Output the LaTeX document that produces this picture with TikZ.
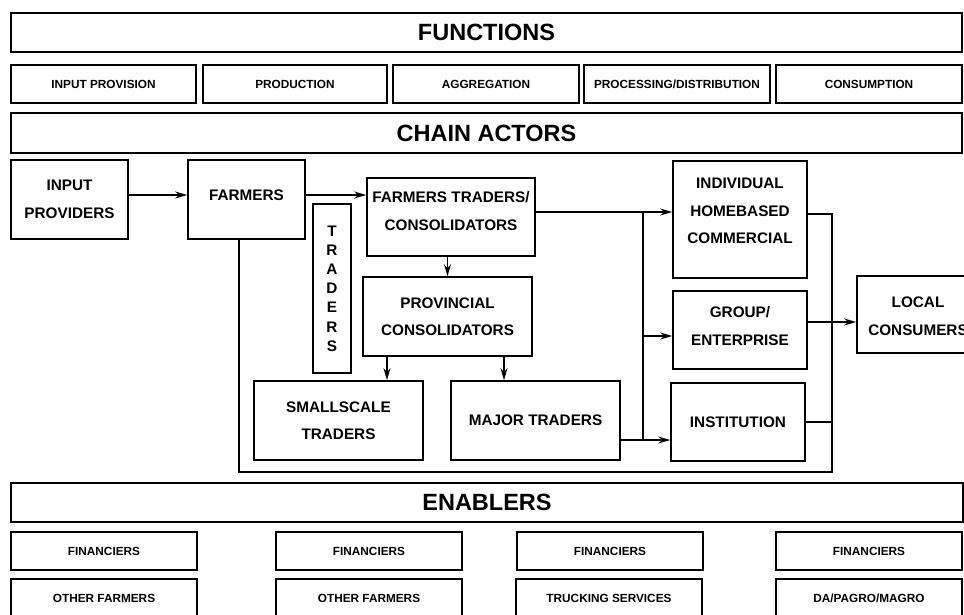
\documentclass[tikz,border=0pt]{standalone}
\usepackage{fontspec}
\setmainfont{Liberation Sans}
\usetikzlibrary{arrows.meta,positioning,calc}

\begin{document}
\begin{tikzpicture}[x=1pt, y=-1pt,
    box/.style={draw, line width=1.6pt, inner sep=0pt, align=center,
        font=\bfseries\fontsize{15.3}{27.5}\selectfont},
    band/.style={box, minimum width=951pt, minimum height=39pt,
        font=\bfseries\fontsize{23.5}{28}\selectfont},
    tag/.style={box, minimum width=186pt, minimum height=38pt,
        font=\bfseries\fontsize{11.8}{14}\selectfont},
    arr/.style={line width=1.3pt, -{Stealth[length=12pt, width=7pt, inset=4pt]}},
    link/.style={line width=1.3pt}]

    \useasboundingbox (0,0) rectangle (964,615);

    % functions
    \node[band] (functions) at (486.5,32.5) {FUNCTIONS};
    \node[tag, minimum width=185pt] (fInput) at (103.5,84) {INPUT PROVISION};
    \node[tag, minimum width=184pt] (fProd) at (295,84) {PRODUCTION};
    \node[tag] (fAggr) at (486,84) {AGGREGATION};
    \node[tag] (fProc) at (677,84) {PROCESSING/DISTRIBUTION};
    \node[tag] (fCons) at (869,84) {CONSUMPTION};

    % chain actors
    \node[band, minimum height=40pt] (actors) at (486.5,133) {CHAIN ACTORS};
    \node[box, minimum width=117pt, minimum height=79pt] (inputProv) at (69.5,199.5) {INPUT\\PROVIDERS};
    \node[box, minimum width=117pt, minimum height=79pt, text height=14pt, text depth=12pt] (farmers) at (246.5,199.5) {FARMERS};
    \node[box, minimum width=38pt, minimum height=169pt, font=\bfseries\fontsize{15.3}{19.2}\selectfont] (traders) at (332,288.5) {T\\R\\A\\D\\E\\R\\S};
    \node[box, minimum width=168pt, minimum height=78pt, text height=40pt, text depth=14pt] (ftc) at (451,217) {FARMERS TRADERS/\\CONSOLIDATORS};
    \node[box, minimum width=169pt, minimum height=79pt] (prov) at (447.5,316.5) {PROVINCIAL\\CONSOLIDATORS};
    \node[box, minimum width=169pt, minimum height=79pt] (small) at (338.5,420.5) {SMALLSCALE\\TRADERS};
    \node[box, minimum width=169pt, minimum height=79pt] (major) at (535.5,420.5) {MAJOR TRADERS};
    \node[box, minimum width=134pt, minimum height=117pt, text height=62pt, text depth=14pt] (indiv) at (740,219.5) {INDIVIDUAL\\HOMEBASED\\COMMERCIAL};
    \node[box, minimum width=134pt, minimum height=78pt, text height=44pt, text depth=14pt] (group) at (740,330) {GROUP/\\ENTERPRISE};
    \node[box, minimum width=134pt, minimum height=78pt] (instit) at (738,422) {INSTITUTION};
    \node[box, minimum width=122pt, minimum height=77pt, text height=55pt, text depth=14pt] (local) at (918,314.5) {LOCAL\\CONSUMERS};

    \coordinate (ipOut) at ([yshift=4.5pt]inputProv.east);
    \draw[arr] (ipOut) -- (ipOut -| farmers.west);
    \coordinate (fmOut) at ([yshift=4.5pt]farmers.east);
    \draw[arr] (fmOut) -- (fmOut -| ftc.west);
    \draw[arr] (prov.north |- ftc.south) -- (prov.north);
    \coordinate (pvL) at ([xshift=-60.5pt]prov.south);
    \coordinate (pvR) at ([xshift=56.5pt]prov.south);
    \draw[arr] (pvL) -- (pvL |- small.north);
    \draw[arr] (pvR) -- (pvR |- major.north);

    % left bus into the outlets
    \coordinate (ftOut) at ([yshift=5pt]ftc.east);
    \coordinate (mtOut) at ([yshift=-19.5pt]major.east);
    \coordinate (busTop) at (ftOut -| 643,0);
    \draw[arr] (ftOut) -- (ftOut -| indiv.west);
    \draw[arr] (mtOut) -- (mtOut -| instit.west);
    \draw[link] (busTop) -- (busTop |- mtOut);
    \coordinate (grIn) at ([yshift=-6pt]group.west);
    \draw[arr] (grIn -| busTop) -- (grIn);

    % right bus and loop back to farmers
    \coordinate (idOut) at ([yshift=5.5pt]indiv.east);
    \coordinate (rBus) at (832,472);
    \draw[link] ([xshift=-7.5pt]farmers.south) |- (rBus) |- (idOut);
    \draw[link] (instit.east) -- (instit.east -| rBus);
    \coordinate (grOut) at ([yshift=8pt]group.east);
    \draw[arr] (grOut) -- (grOut -| local.west);

    % enablers
    \node[band, minimum width=952pt] (enablers) at (487,502.5) {ENABLERS};
    \foreach \x [count=\i] in {104,369,610,869}
        \node[tag] (fin\i) at (\x,551) {FINANCIERS};
    \node[tag] (other1) at (104,598) {OTHER FARMERS};
    \node[tag] (other2) at (369,598) {OTHER FARMERS};
    \node[tag] (trucking) at (609,598) {TRUCKING SERVICES};
    \node[tag] (agencies) at (869,598) {DA/PAGRO/MAGRO};
\end{tikzpicture}
\end{document}
